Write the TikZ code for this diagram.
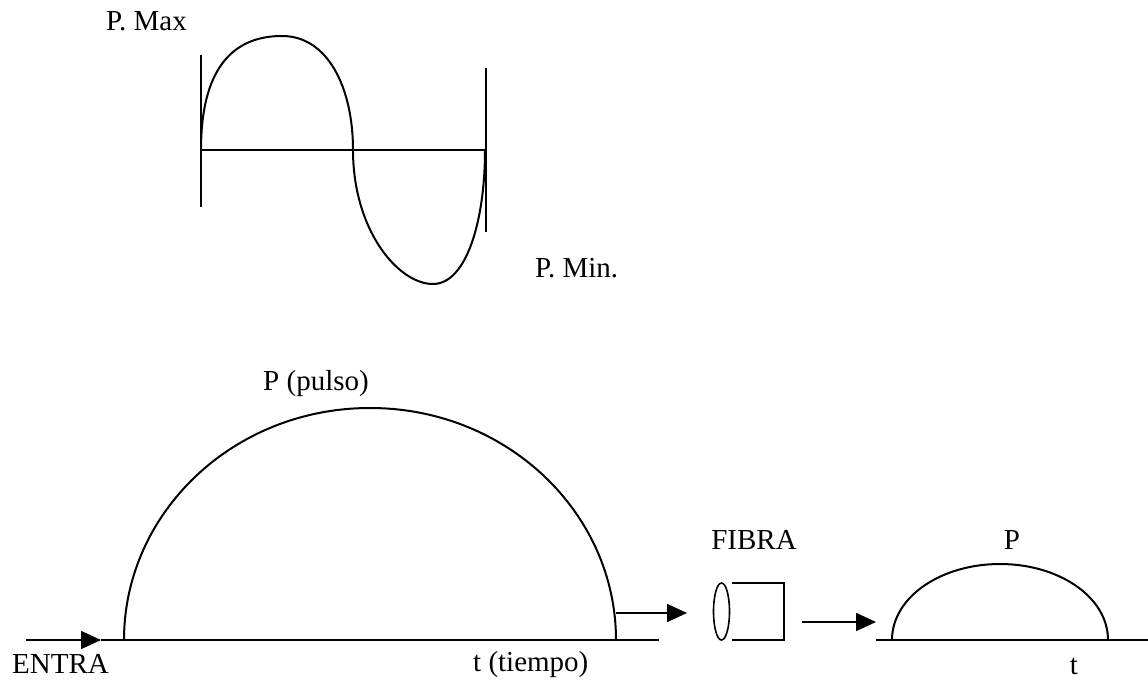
\documentclass[tikz,border=0pt]{standalone}
\usepackage{fontspec}
\setmainfont{Liberation Serif}
\usetikzlibrary{arrows.meta,shapes.geometric}
\begin{document}
\begin{tikzpicture}[x=1pt,y=-1pt,
  curve/.style={line width=2pt, line join=round},
  axis/.style={line width=1.8pt},
  lbl/.style={inner sep=0pt, font=\fontsize{29}{33}\selectfont},
  arr/.style={line width=1.6pt, -{Triangle[length=20pt,width=18pt]}}]
\useasboundingbox (0,0) rectangle (1148,684);
% ---- top sine ----
\draw[axis] (201,55) -- (201,207);
\draw[axis] (486,68) -- (486,232);
\draw[axis] (201,150) -- (486,150);
\draw[curve] (201,150) .. controls (201,62) and (238,36) .. (282,36)
  .. controls (328,36) and (353,88) .. (353,150)
  .. controls (353,230) and (398,284) .. (433,284)
  .. controls (466,284) and (485,222) .. (485,150);
\node[lbl, anchor=west] (pmax) at (106,21) {P. Max};
\node[lbl, anchor=west] (pmin) at (535,268) {P. Min.};
% ---- big pulse ----
\coordinate (e0) at (26,640);
\coordinate (e1) at (101,640);
\coordinate (b1) at (659,640);
\draw[axis] (e1) -- (b1);
\draw[arr] (e0) -- (e1);
\draw[curve] (124,640) .. controls (124,513) and (233,408) .. (370,408)
  .. controls (507,408) and (616,513) .. (616,640);
\node[lbl] (pulso) at (316,384) {P (pulso)};
\node[lbl, anchor=west] (entra) at (12,664) {ENTRA};
\node[lbl, anchor=west] (tiempo) at (473,665) {t (tiempo)};
% ---- fibre ----
\coordinate (a1s) at (616,613);
\coordinate (a1e) at (687,613);
\draw[arr] (a1s) -- (a1e);
\node[draw, line width=1.6pt, ellipse, minimum width=16pt, minimum height=57pt, inner sep=0pt] (fib) at (721.5,611.5) {};
\draw[line width=1.8pt] (732,583) -- (784,583) -- (784,640) -- (732,640);
\node[lbl] (fibra) at (754,540) {FIBRA};
\coordinate (a2s) at (802,622);
\coordinate (a2e) at (876,622);
\draw[arr] (a2s) -- (a2e);
% ---- small pulse ----
\draw[axis] (876,640) -- (1148,640);
\draw[curve] (892,640) .. controls (892,597) and (941,564) .. (1000,564)
  .. controls (1059,564) and (1108,597) .. (1108,640);
\node[lbl] (p2) at (1012,540) {P};
\node[lbl] (t2) at (1074,666) {t};
\end{tikzpicture}
\end{document}
